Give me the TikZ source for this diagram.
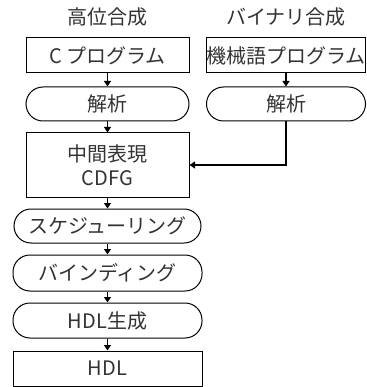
\documentclass[tikz,border=0pt]{standalone}
\usepackage{fontspec}
\setmainfont{Noto Sans CJK JP}
\usetikzlibrary{arrows.meta}
\tikzset{
  lbl/.style={text=black!80, font=\fontsize{20}{24}\selectfont, inner sep=0pt},
  box/.style={lbl, draw=black, line width=1pt, minimum height=35pt, align=center},
  proc/.style={box, rounded corners=17pt},
  arr/.style={line width=1.2pt, -{Triangle[length=5.5pt,width=7pt]}}
}
\begin{document}
\begin{tikzpicture}[x=1pt,y=1pt]
\useasboundingbox (0,0) rectangle (366,-387);
\node[lbl] (t1) at (107.5,-17) {高位合成};
\node[lbl] (t2) at (286,-17) {バイナリ合成};
\node[box, minimum width=163pt] (cprog) at (107.5,-55.5) {C プログラム};
\node[box, minimum width=159pt] (mprog) at (286,-55.5) {機械語プログラム};
\node[proc, minimum width=163pt, minimum height=34pt] (an1) at (107.5,-104) {解析};
\node[proc, minimum width=159pt, minimum height=34pt] (an2) at (286,-104) {解析};
\node[box, minimum width=163pt, minimum height=64pt] (cdfg) at (107.5,-165) {中間表現\\CDFG};
\node[proc, minimum width=187pt, minimum height=34pt] (sch) at (107.5,-226) {スケジューリング};
\node[proc, minimum width=189pt, minimum height=36pt] (bind) at (107.5,-273) {バインディング};
\node[proc, minimum width=189pt] (gen) at (107.5,-320.5) {HDL生成};
\node[box, minimum width=189pt] (hdl) at (107.5,-368.5) {HDL};
\draw[arr] (cprog) -- (an1);
\draw[arr] (mprog) -- (an2);
\draw[arr] (an1) -- (cdfg);
\draw[arr] (an2.south) |- (cdfg.east);
\draw[arr] (cdfg) -- (sch);
\draw[arr] (sch) -- (bind);
\draw[arr] (bind) -- (gen);
\draw[arr] (gen) -- (hdl);
\end{tikzpicture}
\end{document}
